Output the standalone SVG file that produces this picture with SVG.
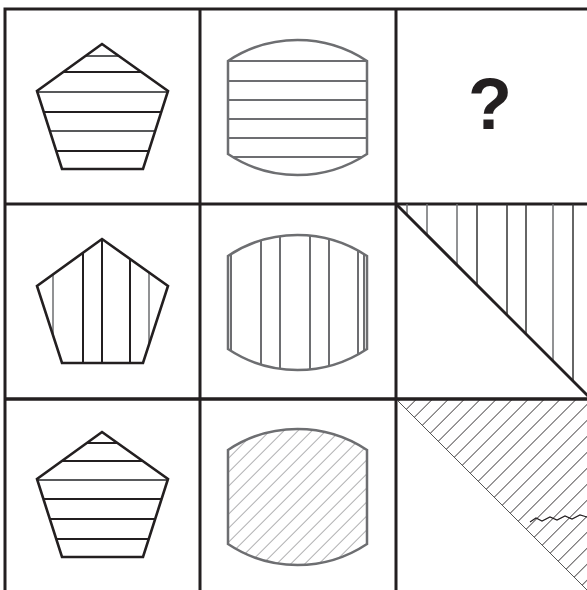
<svg xmlns="http://www.w3.org/2000/svg" width="587" height="590" viewBox="0 0 587 590">
<style>
.grid{fill:none;stroke:#231f20;stroke-width:3}
.pent{fill:none;stroke:#231f20;stroke-width:2.6;stroke-linejoin:miter}
.pl{stroke:#231f20;stroke-width:2}
.pl2{stroke:#58595b;stroke-width:2}
.bar{fill:none;stroke:#6d6e71;stroke-width:2.5}
.bl{stroke:#6d6e71;stroke-width:2}
.vl{stroke:#333;stroke-width:1.5}
.vl2{stroke:#6d6e71;stroke-width:1.5}
.diag{stroke:#231f20;stroke-width:3}
.q{font-family:"Liberation Sans",Arial,sans-serif;font-weight:bold;font-size:72px;fill:#231f20;text-anchor:middle}
</style>
<defs>
<clipPath id="cpPent1"><path d="M102,44 L168,91 L143,169 L62,169 L37,91 Z"/></clipPath>
<clipPath id="cpPent2"><path d="M102,239 L168,286 L143,363 L62,363 L37,286 Z"/></clipPath>
<clipPath id="cpPent3"><path d="M102,432 L168,479 L143,557 L62,557 L37,479 Z"/></clipPath>
<clipPath id="cpBar1"><path d="M228,61 A125.5,125.5 0 0 1 367,61 L367,154 A125.5,125.5 0 0 1 228,154 Z"/></clipPath>
<clipPath id="cpBar2"><path d="M228,256 A125.5,125.5 0 0 1 367,256 L367,349 A125.5,125.5 0 0 1 228,349 Z"/></clipPath>
<clipPath id="cpBar3"><path d="M228,450 A125.5,125.5 0 0 1 367,450 L367,544 A125.5,125.5 0 0 1 228,544 Z"/></clipPath>
<clipPath id="cpTri"><path d="M396,399 L592,399 L592,595 Z"/></clipPath>
<pattern id="hatchA" patternUnits="userSpaceOnUse" width="9.9" height="10" patternTransform="rotate(45)">
<line x1="0" y1="-1" x2="0" y2="11" stroke="#6d6e71" stroke-width="1.1"/>
</pattern>
<pattern id="hatchB" patternUnits="userSpaceOnUse" width="11.3" height="10" patternTransform="rotate(45)">
<line x1="0" y1="-1" x2="0" y2="11" stroke="#231f20" stroke-width="1.4"/>
</pattern>
</defs>

<g id="grid">
<rect class="grid" x="5" y="9" width="586" height="585"/>
<line class="grid" x1="200" y1="9" x2="200" y2="594"/>
<line class="grid" x1="396" y1="9" x2="396" y2="594"/>
<line class="grid" x1="5" y1="204" x2="591" y2="204"/>
<line class="grid" x1="5" y1="399" x2="591" y2="399"/>
</g>

<g id="r1c1">
<g clip-path="url(#cpPent1)">
<line class="pl2" x1="30" y1="56" x2="175" y2="56"/>
<line class="pl" x1="30" y1="72" x2="175" y2="72"/>
<line class="pl2" x1="30" y1="92" x2="175" y2="92"/>
<line class="pl" x1="30" y1="112" x2="175" y2="112"/>
<line class="pl2" x1="30" y1="131" x2="175" y2="131"/>
<line class="pl" x1="30" y1="151" x2="175" y2="151"/>
</g>
<path class="pent" d="M102,44 L168,91 L143,169 L62,169 L37,91 Z"/>
</g>

<g id="r1c2">
<g clip-path="url(#cpBar1)">
<line class="bl" x1="220" y1="61" x2="375" y2="61"/>
<line class="bl" x1="220" y1="81" x2="375" y2="81"/>
<line class="bl" x1="220" y1="100" x2="375" y2="100"/>
<line class="bl" x1="220" y1="119" x2="375" y2="119"/>
<line class="bl" x1="220" y1="138" x2="375" y2="138"/>
<line class="bl" x1="220" y1="157" x2="375" y2="157"/>
</g>
<path class="bar" d="M228,61 A125.5,125.5 0 0 1 367,61 L367,154 A125.5,125.5 0 0 1 228,154 Z"/>
</g>

<g id="r1c3">
<text class="q" x="490" y="129">?</text>
</g>

<g id="r2c1">
<g clip-path="url(#cpPent2)">
<line class="vl2" x1="53" y1="230" x2="53" y2="370"/>
<line class="pl" x1="83" y1="230" x2="83" y2="370"/>
<line class="pl" x1="102" y1="230" x2="102" y2="370"/>
<line class="pl" x1="130" y1="230" x2="130" y2="370"/>
<line class="vl2" x1="149" y1="230" x2="149" y2="370"/>
</g>
<path class="pent" d="M102,239 L168,286 L143,363 L62,363 L37,286 Z"/>
</g>

<g id="r2c2">
<g clip-path="url(#cpBar2)">
<line class="bl" x1="231" y1="220" x2="231" y2="380"/>
<line class="bl" x1="261" y1="220" x2="261" y2="380"/>
<line class="bl" x1="280" y1="220" x2="280" y2="380"/>
<line class="bl" x1="310" y1="220" x2="310" y2="380"/>
<line class="bl" x1="329" y1="220" x2="329" y2="380"/>
<line class="bl" x1="358" y1="220" x2="358" y2="380"/>
<line class="bl" x1="364" y1="220" x2="364" y2="380"/>
</g>
<path class="bar" d="M228,256 A125.5,125.5 0 0 1 367,256 L367,349 A125.5,125.5 0 0 1 228,349 Z"/>
</g>

<g id="r2c3">
<line class="vl2" x1="407" y1="204" x2="407" y2="215"/>
<line class="vl2" x1="427" y1="204" x2="427" y2="235"/>
<line class="vl2" x1="457" y1="204" x2="457" y2="265"/>
<line class="vl" x1="477" y1="204" x2="477" y2="285"/>
<line class="vl" x1="507" y1="204" x2="507" y2="315"/>
<line class="vl" x1="526" y1="204" x2="526" y2="334"/>
<line class="vl2" x1="553" y1="204" x2="553" y2="361"/>
<line class="vl" x1="573" y1="204" x2="573" y2="381"/>
<line class="diag" x1="396" y1="204" x2="591" y2="399"/>
</g>

<g id="r3c2">
<rect x="220" y="420" width="160" height="160" fill="url(#hatchA)" clip-path="url(#cpBar3)"/>
<path class="bar" d="M228,450 A125.5,125.5 0 0 1 367,450 L367,544 A125.5,125.5 0 0 1 228,544 Z"/>
</g>

<g id="r3c1">
<g clip-path="url(#cpPent3)">
<line class="pl" x1="30" y1="443" x2="175" y2="443"/>
<line class="pl" x1="30" y1="461" x2="175" y2="461"/>
<line class="pl2" x1="30" y1="480" x2="175" y2="480"/>
<line class="pl" x1="30" y1="499" x2="175" y2="499"/>
<line class="pl" x1="30" y1="519" x2="175" y2="519"/>
<line class="pl" x1="30" y1="539" x2="175" y2="539"/>
</g>
<path class="pent" d="M102,432 L168,479 L143,557 L62,557 L37,479 Z"/>
</g>

<g id="r3c3">
<rect x="396" y="399" width="196" height="196" fill="url(#hatchB)" clip-path="url(#cpTri)"/>
<line x1="396" y1="399" x2="591" y2="594" stroke="#555" stroke-width="1"/>
<path d="M530,522 L536,518 L542,521 L550,517 L557,520 L565,516 L572,519 L580,515 L587,517" fill="none" stroke="#231f20" stroke-width="1.2"/>
<line class="grid" x1="5" y1="399" x2="591" y2="399"/>
</g>
</svg>
